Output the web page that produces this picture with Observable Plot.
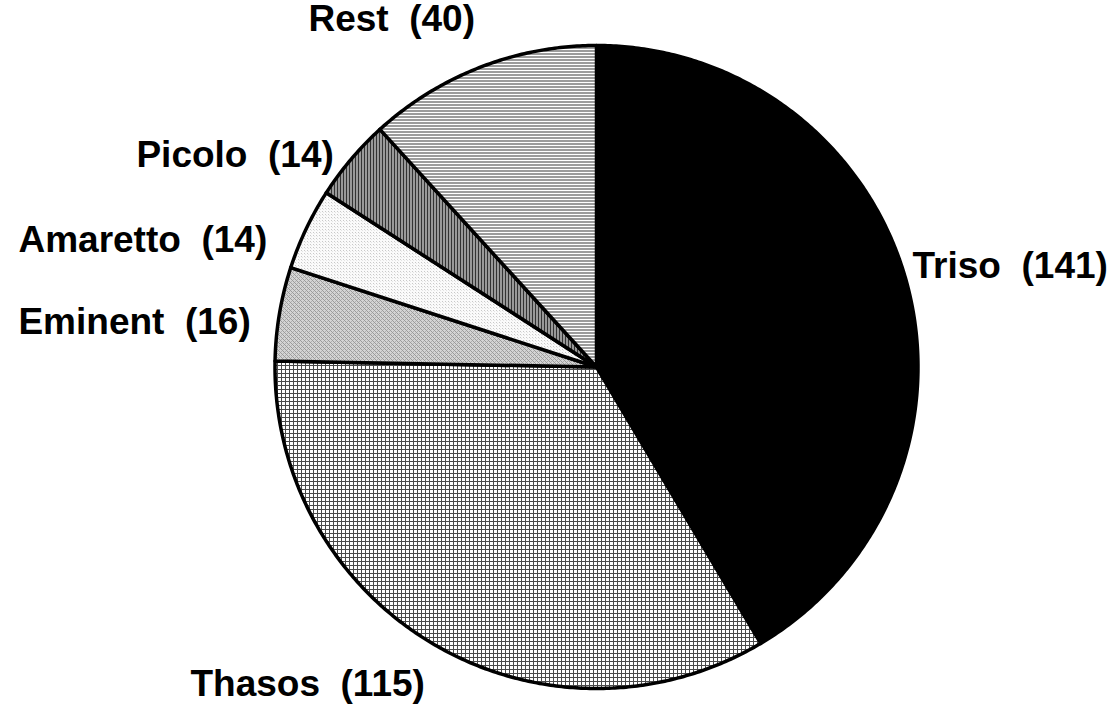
<!DOCTYPE html>
<html>
<head>
<meta charset="utf-8">
<script src="https://cdn.jsdelivr.net/npm/d3@7"></script>
<script src="https://cdn.jsdelivr.net/npm/@observablehq/plot@0.6"></script>
<style>
  html, body { margin: 0; padding: 0; background: #fff; }
  svg text { white-space: pre; }
</style>
</head>
<body>
<div id="chart"></div>
<script>
// Sales by product (clockwise from 12 o'clock)
const categories = ["Triso", "Thasos", "Eminent", "Amaretto", "Picolo", "Rest"];
const counts = [141, 115, 16, 14, 14, 40];

// Fill pattern ids per product
const fillIds = ["solid-black", "grid", "diag", "dots", "vstripes", "hstripes"];

// Where each label sits, in pie-radius units (text starts here)
const labelSpots = [
  [0.983, 0.313],   // Triso
  [-1.263, -0.988], // Thasos
  [-1.798, 0.138],  // Eminent
  [-1.798, 0.393],  // Amaretto
  [-1.431, 0.658],  // Picolo
  [-0.896, 1.081]   // Rest
];

const arcs = d3.pie().sort(null).value(d => d)(counts);

// Outline of each wedge as a closed ring: centre, then along the arc
function wedge(a, i) {
  const pts = [{x: 0, y: 0, k: i}];
  const steps = Math.max(2, Math.ceil((a.endAngle - a.startAngle) / (Math.PI / 360)));
  for (let s = 0; s <= steps; s++) {
    const t = a.startAngle + (a.endAngle - a.startAngle) * s / steps;
    pts.push({x: Math.sin(t), y: Math.cos(t), k: i});
  }
  return pts;
}

const labels = categories.map((c, i) => ({
  text: `${c}  (${counts[i]})`,
  x: labelSpots[i][0],
  y: labelSpots[i][1]
}));

// Hatch patterns; shifted half a pixel so they land on whole pixels
const patternDefs = () => {
  const g = document.createElementNS("http://www.w3.org/2000/svg", "g");
  const pt = 'patternUnits="userSpaceOnUse" patternTransform="translate(0.5,0.5)"';
  g.innerHTML = `
  <defs>
    <pattern id="solid-black" ${pt} width="4" height="4">
      <rect width="4" height="4" fill="#000"/>
    </pattern>
    <pattern id="grid" ${pt} width="4" height="4">
      <rect width="4" height="4" fill="#fff"/>
      <rect x="0" y="0" width="4" height="1" fill="#4a4a4a"/>
      <rect x="0" y="0" width="1" height="4" fill="#4a4a4a"/>
    </pattern>
    <pattern id="diag" ${pt} width="4" height="4">
      <rect width="4" height="4" fill="#d4d4d4"/>
      <rect x="0" y="0" width="1" height="1" fill="#9a9a9a"/>
      <rect x="1" y="1" width="1" height="1" fill="#9a9a9a"/>
      <rect x="2" y="2" width="1" height="1" fill="#9a9a9a"/>
      <rect x="3" y="3" width="1" height="1" fill="#9a9a9a"/>
      <rect x="2" y="0" width="1" height="1" fill="#b0b0b0"/>
      <rect x="0" y="2" width="1" height="1" fill="#b0b0b0"/>
    </pattern>
    <pattern id="dots" ${pt} width="3" height="3">
      <rect width="3" height="3" fill="#fafafa"/>
      <rect x="0" y="0" width="1" height="1" fill="#c8c8c8"/>
      <rect x="1" y="1" width="1" height="1" fill="#e4e4e4"/>
    </pattern>
    <pattern id="vstripes" ${pt} width="3" height="3">
      <rect width="3" height="3" fill="#999"/>
      <rect x="0" y="0" width="1" height="3" fill="#333"/>
    </pattern>
    <pattern id="hstripes" ${pt} width="3" height="3">
      <rect width="3" height="3" fill="#9c9c9c"/>
      <rect x="0" y="0" width="3" height="1" fill="#fff"/>
    </pattern>
  </defs>`;
  return g;
};

const chart = Plot.plot({
  width: 1120,
  height: 707,
  marginLeft: 274.5,
  marginRight: 202.5,
  marginTop: 45,
  marginBottom: 19,
  x: {domain: [-1, 1], axis: null},
  y: {domain: [-1, 1], axis: null},
  style: {background: "#fff", overflow: "visible"},
  marks: [
    patternDefs,
    ...arcs.map((a, i) => Plot.line(wedge(a, i), {
      x: "x",
      y: "y",
      curve: "linear-closed",
      fill: `url(#${fillIds[i]})`,
      stroke: "#000",
      strokeWidth: 3.5,
      strokeLinejoin: "round"
    })),
    Plot.text(labels, {
      x: "x",
      y: "y",
      text: "text",
      textAnchor: "start",
      fontFamily: "'Liberation Sans', Arial, sans-serif",
      fontWeight: "bold",
      fontSize: 37,
      fill: "#000"
    })
  ]
});

document.getElementById("chart").appendChild(chart);
</script>
</body>
</html>
